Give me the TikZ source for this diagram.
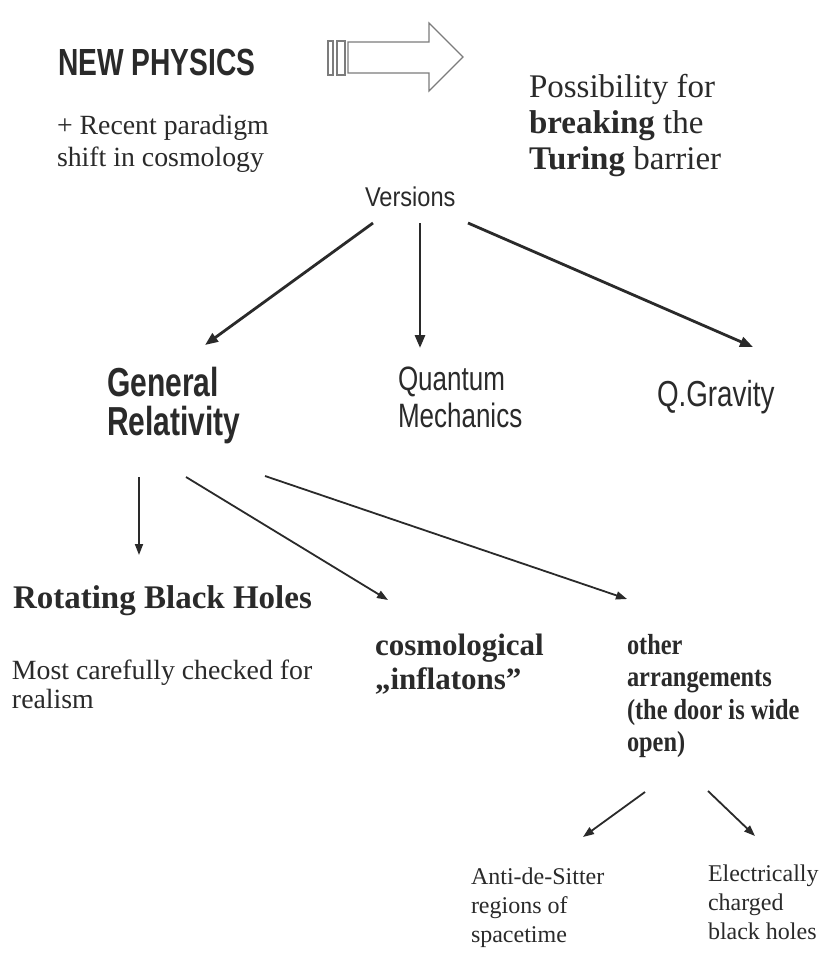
\documentclass[tikz,border=0pt]{standalone}
\usepackage{graphicx}
\usepackage{fontspec}
\setmainfont{Liberation Serif}
\setsansfont{Liberation Sans}
\usetikzlibrary{arrows.meta}

\definecolor{ink}{HTML}{2A2A2A}
\definecolor{outline}{HTML}{7C7C7C}

% fixed line spacing inside stacked text blocks
\newcommand{\leadat}[1]{\baselineskip=#1\relax\lineskiplimit=-\maxdimen\lineskip=0pt\relax}

\tikzset{
  txt/.style={anchor=base west, inner sep=0pt, outer sep=0pt, text=ink},
  mainarrow/.style={draw=ink, line width=2.8pt, -{Triangle[length=13pt,width=10pt]}},
  subarrow/.style={draw=ink, line width=1.8pt, -{Triangle[length=11pt,width=8pt]}},
  blockline/.style={draw=outline, line width=1.1pt, line join=miter, fill=white},
}

\begin{document}
\begin{tikzpicture}[x=1pt, y=-1pt]
  % page
  \fill[white] (0,0) rectangle (830,959);
  \useasboundingbox (0,0) rectangle (830,959);

  % headline and the implication arrow
  \node[txt] (newphys) at (58,75)
    {\scalebox{1}[1.34]{\sffamily\bfseries\fontsize{28.2}{30}\selectfont NEW PHYSICS}};
  \node[txt] (recent) at (57,134)
    {\fontsize{27.8}{32}\selectfont\vtop{\leadat{32pt}\hbox{+ Recent paradigm}\hbox{shift in cosmology}}};

  \draw[blockline] (328,41) rectangle (333,75);
  \draw[blockline] (337,41) rectangle (345,75);
  \draw[blockline] (348,42) -- (429,42) -- (429,23) -- (463,57) -- (429,91) -- (429,73) -- (348,73) -- cycle;

  \node[txt] (possib) at (529,97)
    {\fontsize{33}{36}\selectfont\vtop{\leadat{36pt}\hbox{Possibility for}\hbox{\textbf{breaking} the}\hbox{\textbf{Turing} barrier}}};

  % versions
  \node[txt] (versions) at (365,206)
    {\scalebox{1}[1.15]{\sffamily\fontsize{23.6}{26}\selectfont Versions}};

  \node[txt] (gr) at (107,396)
    {\scalebox{1}[1.35]{\sffamily\bfseries\fontsize{30}{28}\selectfont\vtop{\leadat{29pt}\hbox{General}\hbox{Relativity}}}};
  \node[txt] (qm) at (398,390)
    {\scalebox{1}[1.3]{\sffamily\fontsize{26}{28}\selectfont\vtop{\leadat{28.5pt}\hbox{Quantum}\hbox{Mechanics}}}};
  \node[txt] (qg) at (657,406)
    {\scalebox{1}[1.3]{\sffamily\fontsize{27.8}{30}\selectfont Q.Gravity}};

  \coordinate (vL) at (373,223);  \coordinate (grIn) at (205,345);
  \coordinate (vM) at (420,223);  \coordinate (qmIn) at (420,348);
  \coordinate (vR) at (468,223);  \coordinate (qgIn) at (753,347);
  \draw[mainarrow] (vL) -- (grIn);
  \draw[mainarrow] (vM) -- (qmIn);
  \draw[mainarrow] (vR) -- (qgIn);

  % branches of general relativity
  \node[txt] (rbh) at (13,608)
    {\bfseries\fontsize{33}{36}\selectfont Rotating Black Holes};
  \node[txt] (most) at (12,679)
    {\fontsize{27.8}{30}\selectfont\vtop{\leadat{29.5pt}\hbox{Most carefully checked for}\hbox{realism}}};
  \node[txt] (cosmo) at (375,655)
    {\bfseries\fontsize{31}{32}\selectfont\vtop{\leadat{34pt}\hbox{cosmological}\hbox{„inflatons”}}};
  \node[txt] (other) at (627,654)
    {\scalebox{0.84}[1]{\bfseries\fontsize{29}{32}\selectfont\vtop{\leadat{32.5pt}\hbox{other}\hbox{arrangements}\hbox{(the door is wide}\hbox{open)}}}};

  \coordinate (grA) at (139,477);  \coordinate (rbhIn) at (139,555);
  \coordinate (grB) at (186,477);  \coordinate (cosmoIn) at (388,600);
  \coordinate (grC) at (265,476);  \coordinate (otherIn) at (627,599);
  \draw[subarrow] (grA) -- (rbhIn);
  \draw[subarrow] (grB) -- (cosmoIn);
  \draw[subarrow] (grC) -- (otherIn);

  % further arrangements
  \node[txt] (ads) at (471,884)
    {\fontsize{24}{28}\selectfont\vtop{\leadat{29pt}\hbox{Anti-de-Sitter}\hbox{regions of}\hbox{spacetime}}};
  \node[txt] (ech) at (708,881)
    {\fontsize{24}{28}\selectfont\vtop{\leadat{29pt}\hbox{Electrically}\hbox{charged}\hbox{black holes}}};

  \coordinate (otA) at (645,792);  \coordinate (adsIn) at (583,837);
  \coordinate (otB) at (708,791);  \coordinate (echIn) at (755,836);
  \draw[subarrow] (otA) -- (adsIn);
  \draw[subarrow] (otB) -- (echIn);
\end{tikzpicture}
\end{document}
